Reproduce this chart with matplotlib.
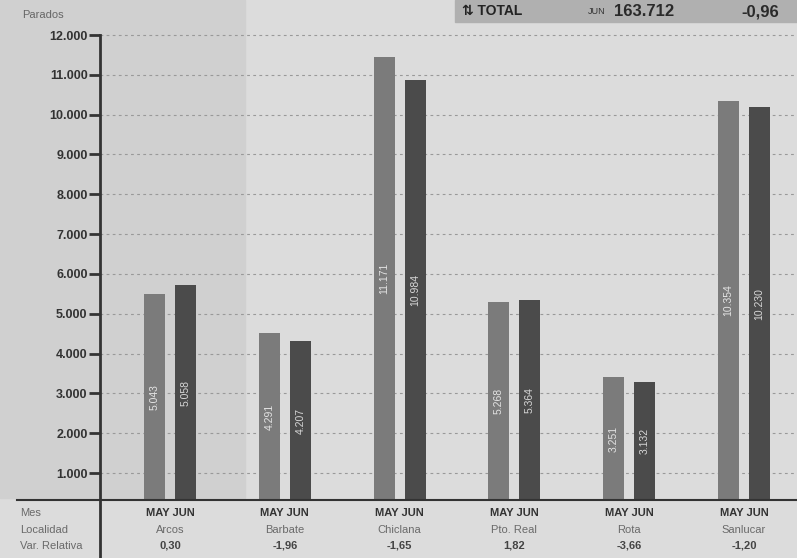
import numpy as np
import matplotlib
matplotlib.use("Agg")
import matplotlib.pyplot as plt
from matplotlib.lines import Line2D
from matplotlib.patches import Rectangle

plt.rcParams['font.family'] = ['Liberation Sans', 'DejaVu Sans']

# data
localidades = ["Arcos", "Barbate", "Chiclana", "Pto. Real", "Rota", "Sanlucar"]
var_relativa = ["0,30", "-1,96", "-1,65", "1,82", "-3,66", "-1,20"]
# bar heights as drawn in the picture
may_alto = [5500, 4510, 11440, 5300, 3400, 10340]
jun_alto = [5720, 4310, 10860, 5350, 3275, 10185]
# values printed inside the bars
may_txt = ["5.043", "4.291", "11.171", "5.268", "3.251", "10.354"]
jun_txt = ["5.058", "4.207", "10.984", "5.364", "3.132", "10.230"]
yticks = [1000, 2000, 3000, 4000, 5000, 6000, 7000, 8000, 9000, 10000, 11000, 12000]

W, H = 797, 558
fig = plt.figure(figsize=(W / 100, H / 100), dpi=100)
fig.patch.set_facecolor('#dcdcdc')

# darker paper on the left side
fig.add_artist(Rectangle((0, 60 / H), 245 / W, 1 - 60 / H, transform=fig.transFigure,
                         color='#d0d0d0', zorder=0))

ax = fig.add_axes([100 / W, 58 / H, 1 - 100 / W, 500 / H])
ax.set_facecolor('none')

# pixel scale: 12000 at y=35, 1000 at y=473
ppk = (473 - 35) / 11.0
ybot = 1000 - (500 - 473) / ppk * 1000
ytop = 12000 + 35 / ppk * 1000
ax.set_ylim(ybot, ytop)

sp = 114.8
ax.set_xlim((100 - 170) / sp, (797 - 170) / sp)

x = np.arange(len(localidades))
bw = 21 / sp
off = 15.5 / sp
col_may = '#7b7b7b'
col_jun = '#4b4b4b'
ax.bar(x - off, may_alto, bw, bottom=0, color=col_may, zorder=3)
ax.bar(x + off, jun_alto, bw, bottom=0, color=col_jun, zorder=3)

for i in range(len(x)):
    ax.text(x[i] - off, (ybot + may_alto[i]) / 2, may_txt[i], rotation=90,
            ha='center', va='center', color='#e4e4e4', fontsize=7.5, zorder=4)
    ax.text(x[i] + off, (ybot + jun_alto[i]) / 2, jun_txt[i], rotation=90,
            ha='center', va='center', color='#d8d8d8', fontsize=7.5, zorder=4)

ax.set_yticks(yticks)
ax.set_yticklabels(["{:,}".format(v).replace(",", ".") for v in yticks])
ax.tick_params(axis='y', length=8, width=2, color='#333333', labelsize=9,
               labelcolor='#333333', pad=1)
for lab in ax.get_yticklabels():
    lab.set_fontweight('bold')
ax.set_xticks([])
for s in ax.spines.values():
    s.set_visible(False)
for v in yticks:
    ax.axhline(v, color='#999999', lw=0.8, ls=(0, (2.5, 3)), zorder=1)

# y axis line running into the table, and the base line
fig.add_artist(Line2D([100 / W, 100 / W], [0, 1 - 35 / H], transform=fig.transFigure,
                      color='#333333', lw=2))
fig.add_artist(Line2D([17 / W, 1], [1 - 500 / H, 1 - 500 / H], transform=fig.transFigure,
                      color='#333333', lw=1.5))

fig.text(22 / W, 1 - 15 / H, "Parados", fontsize=8, color='#666666', va='center')

# bottom table
rows_y = [513, 530, 546]
for lab, yy in zip(["Mes", "Localidad", "Var. Relativa"], rows_y):
    fig.text(20 / W, 1 - yy / H, lab, fontsize=8, color='#6a6a6a', va='center')
for i in range(len(x)):
    cx = (170 + sp * i) / W
    fig.text(cx, 1 - rows_y[0] / H, "MAY JUN", fontsize=8, fontweight='bold',
             color='#333333', ha='center', va='center')
    fig.text(cx, 1 - rows_y[1] / H, localidades[i], fontsize=8, color='#6a6a6a',
             ha='center', va='center')
    fig.text(cx, 1 - rows_y[2] / H, var_relativa[i], fontsize=8, fontweight='bold',
             color='#444444', ha='center', va='center')

# total box at the top right
fig.add_artist(Rectangle((455 / W, 1 - 22 / H), 1 - 455 / W, 22 / H,
                         transform=fig.transFigure, color='#b0b0b0', zorder=0))
fig.text(462 / W, 1 - 11 / H, "⇅ TOTAL", fontsize=10, fontweight='bold',
         color='#222222', va='center')
fig.text(588 / W, 1 - 12 / H, "JUN", fontsize=6.5, color='#333333', va='center')
fig.text(614 / W, 1 - 12 / H, "163.712", fontsize=12, fontweight='bold',
         color='#2a2a2a', va='center')
fig.text(741 / W, 1 - 12 / H, "-0,96", fontsize=12, fontweight='bold',
         color='#2a2a2a', va='center')

fig.savefig("out.png", dpi=100, facecolor=fig.get_facecolor())
